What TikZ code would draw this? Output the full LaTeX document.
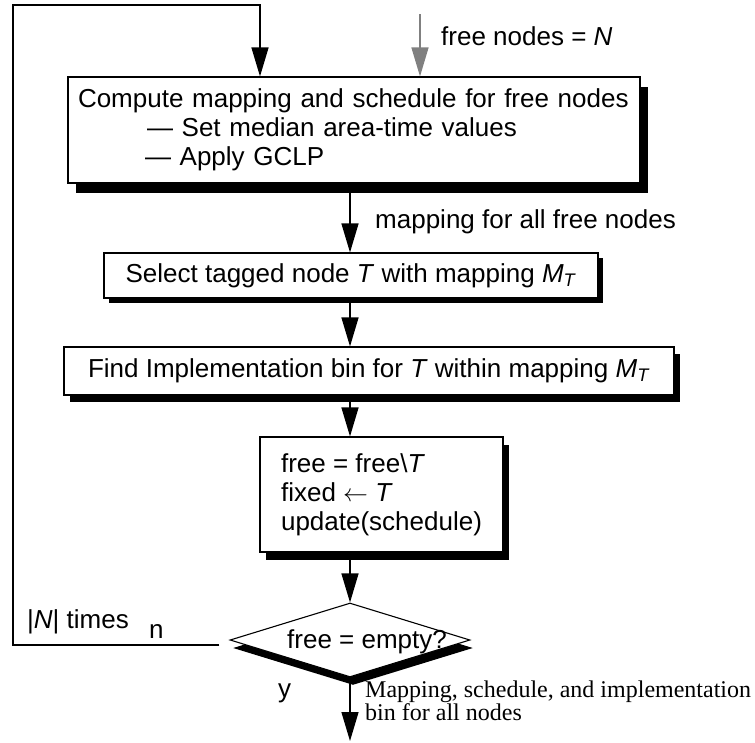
\documentclass[tikz,border=0pt]{standalone}
\usepackage{fontspec}
\setmainfont{Liberation Sans}
\newfontfamily\serifnote{Liberation Serif}
\usetikzlibrary{arrows.meta,shapes.geometric,shadows}
\newcommand\MsubT{\textit{M}\textsubscript{\textit{T}}}
\begin{document}
\begin{tikzpicture}[x=1pt, y=-1pt,
  font=\fontsize{26}{29}\selectfont,
  stage/.style 2 args={draw, fill=white, line width=1.1pt, inner sep=0pt,
    drop shadow={shadow xshift=#1, shadow yshift=#2, fill=black, opacity=1}},
  decision/.style={diamond, draw, fill=white, line width=1.1pt, inner sep=0pt,
    minimum width=240pt, minimum height=74pt,
    drop shadow={shadow xshift=3pt, shadow yshift=-8pt, fill=black, opacity=1}},
  flow/.style={line width=1.3pt, -{Triangle[length=29pt, width=17pt]}},
  note/.style={inner sep=0pt, anchor=base west}]
\useasboundingbox (0,0) rectangle (755,742);
\coordinate (axis) at (350,0);
\coordinate (loopcorner) at (13,5);
\coordinate (looptop) at (260,5);
\coordinate (start) at (420,14);
\coordinate (finish) at (347,741);
\node[stage={8pt}{-10pt}, text width=552pt, inner xsep=10pt, minimum height=106pt, align=left] (compute) at (354,130) {Compute mapping and schedule for free nodes\\
\hspace*{69pt}— Set median area-time values\\
\hspace*{67pt}— Apply GCLP};
\node[stage={5pt}{-5pt}, minimum width=494pt, minimum height=45pt] (select) at (351,275.5) {Select tagged node \textit{T} with mapping \MsubT};
\node[stage={6pt}{-7pt}, minimum width=610pt, minimum height=48pt] (find) at (369,371) {Find Implementation bin for \textit{T} within mapping \MsubT};
\node[stage={6pt}{-8pt}, minimum width=243pt, minimum height=115pt, align=left] (update) at (381.5,494.5) {free = free\textbackslash\textit{T}\\
fixed $\leftarrow$ \textit{T}\\
update(schedule)};
\node[decision] (test) at (350,640) {};
\node[note] (testlabel) at (287,648) {free = empty?};
\node[note] (freenodes) at (441,45) {free nodes = \textit{N}};
\node[note] (allfree) at (375,228) {mapping for all free nodes};
\node[note] (times) at (27,628) {|\textit{N}| times};
\node[note] (no) at (149,638) {n};
\node[note] (yes) at (278,697) {y};
\node[inner sep=0pt, anchor=north west, align=left, font=\serifnote\fontsize{24}{21}\selectfont] (result) at (365,681) {Mapping, schedule, and implementation\\bin for all nodes};
\draw[flow] ([shift={(-10,5)}]test.west) -| (loopcorner) -- (looptop) -- (looptop |- compute.north);
\draw[flow, draw=gray, fill=gray] (start) -- (start |- compute.north);
\draw[flow] (compute.south -| axis) -- (select.north -| axis);
\draw[flow] (select.south -| axis) -- (find.north -| axis);
\draw[flow] (find.south -| axis) -- (update.north -| axis);
\draw[flow] (update.south -| axis) -- (test.north);
\draw[flow] (test.south) -- (test.south |- finish);
\end{tikzpicture}
\end{document}
